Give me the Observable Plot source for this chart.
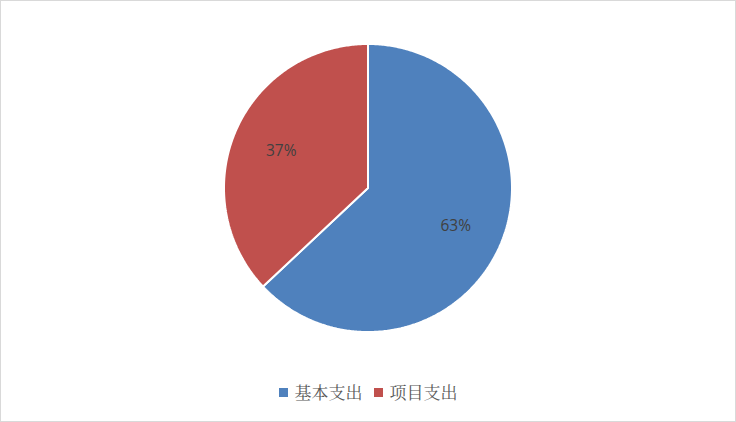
<!DOCTYPE html>
<html>
<head>
<meta charset="utf-8">
<script src="https://cdn.jsdelivr.net/npm/d3@7"></script>
<script src="https://cdn.jsdelivr.net/npm/@observablehq/plot@0.6"></script>
<style>
  html, body { margin: 0; padding: 0; background: #fff; }
  #frame { position: relative; width: 736px; height: 422px; box-sizing: border-box; border: 1px solid #d9d9d9; background: #fff; overflow: hidden; }
  #chart svg { display: block; }
  #legend { position: absolute; left: 0; right: 0; top: 381px; display: flex; justify-content: center; align-items: center;
    font-family: "Noto Serif CJK SC", "Noto Sans CJK SC", serif; font-size: 17px; line-height: 20px; color: #595959; }
  .item { display: flex; align-items: center; }
  .sw { width: 9px; height: 9px; margin-right: 7px; }
  .item + .item { margin-left: 11px; }
</style>
</head>
<body>
<div id="frame">
  <div id="chart"></div>
  <div id="legend"></div>
</div>
<script>
const categories = ["基本支出", "项目支出"];
const values = [63, 37];
const labels = ["63%", "37%"];
const colors = ["#4F81BD", "#C0504D"];

const arcs = d3.pie().sort(null).value(d => d)(values);

// slice outlines (unit circle), clockwise from 12 o'clock
const points = [];
arcs.forEach((a, i) => {
  const n = Math.max(2, Math.ceil((a.endAngle - a.startAngle) / 0.01));
  for (let k = 0; k <= n; ++k) {
    const t = a.startAngle + (a.endAngle - a.startAngle) * k / n;
    points.push({cat: categories[i], x: Math.sin(t), y: Math.cos(t)});
  }
});

const labelR = 0.66;
const labelData = arcs.map((a, i) => {
  const m = (a.startAngle + a.endAngle) / 2;
  return {cat: categories[i], text: labels[i], x: labelR * Math.sin(m), y: labelR * Math.cos(m)};
});

const W = 734, H = 370;
const plot = Plot.plot({
  width: W,
  height: H,
  marginLeft: 223,
  marginRight: 223,
  marginTop: 43,
  marginBottom: 39,
  x: {domain: [-1, 1], axis: null},
  y: {domain: [-1, 1], axis: null},
  color: {domain: categories, range: colors},
  style: {background: "white"},
  marks: [
    Plot.area(points, {x1: "x", y1: "y", x2: 0, y2: 0, z: "cat", fill: "cat", stroke: "white", strokeWidth: 2, strokeLinejoin: "miter"}),
    Plot.text(labelData, {x: "x", y: "y", text: "text", fill: "#404040", fontSize: 15.5,
      fontFamily: "'Open Sans', 'Liberation Sans', sans-serif"})
  ]
});
document.getElementById("chart").appendChild(plot);

const legend = document.getElementById("legend");
categories.forEach((c, i) => {
  const item = document.createElement("div");
  item.className = "item";
  const sw = document.createElement("span");
  sw.className = "sw";
  sw.style.background = colors[i];
  const t = document.createElement("span");
  t.textContent = c;
  item.appendChild(sw);
  item.appendChild(t);
  legend.appendChild(item);
});
</script>
</body>
</html>
